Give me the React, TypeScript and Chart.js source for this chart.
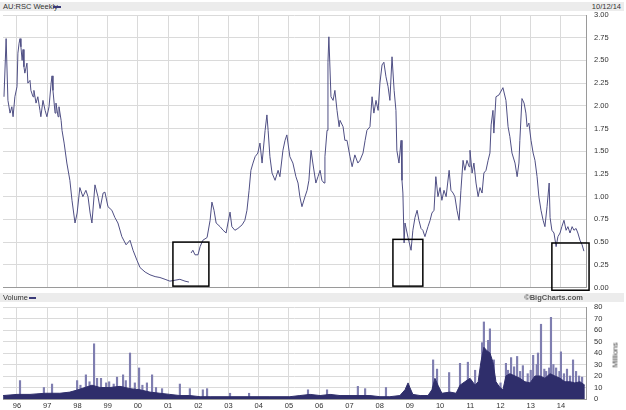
import React, { useEffect, useRef } from "react";
import { Chart, registerables } from "chart.js";
Chart.register(...registerables);

// ---- Data (decimal years) ----
const priceTimes = [
  1995.57, 1995.64, 1995.70, 1995.77, 1995.83, 1995.87, 1995.93, 1996.00, 1996.03, 1996.07,
  1996.10, 1996.13, 1996.17, 1996.20, 1996.23, 1996.26, 1996.33, 1996.36, 1996.43, 1996.46,
  1996.53, 1996.56, 1996.63, 1996.69, 1996.76, 1996.79, 1996.86, 1996.93, 1996.99, 1997.06,
  1997.13, 1997.16, 1997.19, 1997.26, 1997.29, 1997.36, 1997.39, 1997.46, 1997.49, 1997.56,
  1997.65, 1997.75, 1997.82, 1997.92, 1997.99, 1998.08, 1998.18, 1998.28, 1998.35, 1998.42,
  1998.48, 1998.58, 1998.68, 1998.75, 1998.85, 1998.91, 1999.01, 1999.14, 1999.24, 1999.34,
  1999.47, 1999.61, 1999.74, 1999.84, 1999.97, 2000.07, 2000.24, 2000.40, 2000.57, 2000.73,
  2000.90, 2001.06, 2001.23, 2001.39, 2001.56, 2001.69, 2001.72, 2001.76, 2001.82, 2001.89,
  2001.99, 2002.06, 2002.15, 2002.29, 2002.39, 2002.45, 2002.52, 2002.59, 2002.72, 2002.82,
  2002.92, 2002.98, 2003.05, 2003.11, 2003.21, 2003.31, 2003.45, 2003.54, 2003.61, 2003.68,
  2003.74, 2003.81, 2003.88, 2003.97, 2004.04, 2004.11, 2004.21, 2004.27, 2004.31, 2004.37,
  2004.44, 2004.54, 2004.64, 2004.70, 2004.80, 2004.87, 2004.93, 2005.03, 2005.13, 2005.23,
  2005.30, 2005.36, 2005.43, 2005.53, 2005.60, 2005.66, 2005.73, 2005.79, 2005.89, 2005.96,
  2006.03, 2006.09, 2006.16, 2006.19, 2006.26, 2006.29, 2006.32, 2006.39, 2006.46, 2006.52,
  2006.59, 2006.66, 2006.69, 2006.79, 2006.85, 2006.92, 2007.02, 2007.09, 2007.18, 2007.28,
  2007.35, 2007.45, 2007.52, 2007.58, 2007.68, 2007.75, 2007.81, 2007.88, 2007.95, 2008.01,
  2008.08, 2008.14, 2008.21, 2008.28, 2008.34, 2008.41, 2008.48, 2008.54, 2008.57, 2008.64,
  2008.71, 2008.74, 2008.77, 2008.81, 2008.84, 2008.94, 2009.04, 2009.10, 2009.17, 2009.24,
  2009.30, 2009.37, 2009.43, 2009.50, 2009.60, 2009.67, 2009.73, 2009.80, 2009.86, 2009.93,
  2010.00, 2010.06, 2010.13, 2010.20, 2010.30, 2010.36, 2010.43, 2010.49, 2010.56, 2010.63,
  2010.69, 2010.76, 2010.82, 2010.89, 2010.96, 2010.99, 2011.06, 2011.12, 2011.19, 2011.26,
  2011.32, 2011.39, 2011.45, 2011.52, 2011.59, 2011.65, 2011.69, 2011.75, 2011.78, 2011.85,
  2011.95, 2012.08, 2012.18, 2012.25, 2012.31, 2012.38, 2012.48, 2012.55, 2012.61, 2012.64,
  2012.71, 2012.78, 2012.84, 2012.88, 2012.94, 2013.01, 2013.08, 2013.14, 2013.21, 2013.27,
  2013.34, 2013.41, 2013.47, 2013.54, 2013.61, 2013.64, 2013.70, 2013.77, 2013.84, 2013.90,
  2013.97, 2014.03, 2014.10, 2014.17, 2014.23, 2014.30, 2014.37, 2014.43, 2014.50, 2014.56,
  2014.63, 2014.70, 2014.76,
];
const priceValues: (number | null)[] = [
  2.10, 2.74, 2.06, 1.92, 1.99, 1.88, 2.10, 2.21, 2.58, 2.69,
  2.74, 2.65, 2.50, 2.62, 2.43, 2.36, 2.47, 2.25, 2.28, 2.17,
  2.10, 2.17, 2.03, 2.10, 1.95, 1.88, 2.06, 1.95, 1.88, 1.99,
  2.25, 2.33, 2.17, 1.92, 2.03, 1.88, 1.99, 1.84, 1.73, 1.59,
  1.37, 1.18, 0.96, 0.71, 0.82, 1.10, 1.00, 1.07, 1.00, 0.82,
  0.71, 1.13, 1.00, 0.87, 1.04, 1.05, 0.89, 0.85, 0.77, 0.71,
  0.56, 0.47, 0.52, 0.41, 0.30, 0.22, 0.17, 0.14, 0.12, 0.11,
  0.09, 0.07, 0.08, 0.09, 0.07, 0.06, null, 0.38, 0.41, 0.36,
  0.36, 0.45, 0.52, 0.55, 0.74, 0.94, 0.85, 0.71, 0.67, 0.63,
  0.60, 0.71, 0.83, 0.67, 0.63, 0.65, 0.69, 0.74, 0.85, 1.07,
  1.29, 1.37, 1.44, 1.48, 1.59, 1.37, 1.73, 1.90, 1.73, 1.44,
  1.26, 1.18, 1.29, 1.22, 1.51, 1.62, 1.68, 1.44, 1.37, 1.22,
  1.15, 1.00, 0.89, 1.00, 1.07, 1.18, 1.51, 1.37, 1.15, 1.22,
  1.29, 1.18, 1.15, 1.44, 1.73, 2.48, 2.76, 2.10, 2.06, 2.17,
  1.95, 1.77, 1.84, 1.77, 1.62, 1.62, 1.44, 1.33, 1.46, 1.37,
  1.40, 1.48, 1.62, 1.73, 1.77, 2.10, 1.92, 2.06, 1.95, 2.25,
  2.45, 2.48, 2.32, 2.21, 2.06, 2.54, 2.17, 1.95, 1.51, 1.37,
  1.62, 1.18, 1.04, 0.49, 0.71, 0.55, 0.41, 0.63, 0.77, 0.85,
  0.74, 0.65, 0.63, 0.56, 0.67, 0.74, 0.82, 0.85, 1.22, 1.00,
  1.10, 0.96, 1.07, 1.00, 1.29, 1.07, 1.04, 1.00, 0.85, 0.74,
  1.07, 1.40, 1.29, 1.40, 1.33, 1.51, 1.26, 1.37, 1.15, 1.00,
  1.10, 1.04, 1.26, 1.29, 1.40, 1.48, 1.79, 1.95, 1.70, 2.10,
  2.12, 2.20, 2.06, 1.77, 1.66, 1.48, 1.37, 1.22, 1.37, 1.62,
  2.08, 2.03, 1.92, 1.77, 1.81, 1.62, 1.48, 1.40, 1.22, 1.00,
  0.85, 0.74, 0.67, 0.89, 1.15, 0.77, 0.63, 0.60, 0.45, 0.56,
  0.60, 0.67, 0.74, 0.63, 0.67, 0.60, 0.67, 0.63, 0.65, 0.60,
  0.52, 0.47, 0.40,
];

const volBaseTimes = [
  1995.54, 1996.00, 1996.43, 1996.93, 1997.42, 1997.75, 1998.02, 1998.25, 1998.48, 1998.75,
  1999.08, 1999.41, 1999.74, 2000.07, 2000.40, 2000.73, 2001.06, 2001.39, 2001.72, 2002.06,
  2002.39, 2003.05, 2003.71, 2004.37, 2005.03, 2005.36, 2005.70, 2006.03, 2006.36, 2006.69,
  2007.02, 2007.35, 2007.68, 2008.01, 2008.34, 2008.67, 2008.84, 2008.94, 2009.00, 2009.10,
  2009.34, 2009.60, 2009.73, 2009.83, 2009.93, 2010.06, 2010.33, 2010.53, 2010.66, 2010.82,
  2010.99, 2011.16, 2011.26, 2011.35, 2011.45, 2011.55, 2011.65, 2011.75, 2011.85, 2011.98,
  2012.08, 2012.18, 2012.31, 2012.48, 2012.64, 2012.81, 2012.98, 2013.14, 2013.31, 2013.47,
  2013.64, 2013.80, 2013.97, 2014.13, 2014.30, 2014.46, 2014.63, 2014.79,
];
const volBaseValues = [
  3, 4, 4, 5, 5, 6, 8, 10, 12, 10,
  10, 11, 9, 8, 6, 5, 4, 3, 3, 2,
  2, 2, 2, 2, 2, 3, 4, 3, 4, 3,
  3, 3, 3, 2, 2, 3, 8, 14, 10, 4,
  3, 3, 8, 18, 12, 5, 6, 5, 12, 15,
  18, 12, 15, 32, 45, 42, 40, 32, 15, 10,
  8, 20, 22, 20, 18, 15, 14, 20, 20, 18,
  22, 20, 18, 15, 15, 14, 15, 12,
];

const volSpikeTimes = [
  1996.10, 1996.89, 1997.16, 1997.99, 1998.10, 1998.28, 1998.40, 1998.55, 1998.65, 1998.78,
  1998.95, 1999.05, 1999.20, 1999.31, 1999.51, 1999.60, 1999.74, 1999.90, 2000.04, 2000.15,
  2000.30, 2000.47, 2000.60, 2000.80, 2001.39, 2001.72, 2002.15, 2002.29, 2003.05, 2003.68,
  2005.63, 2006.26, 2007.28, 2007.52, 2008.21, 2009.77, 2009.90, 2010.30, 2010.66, 2010.92,
  2011.16, 2011.39, 2011.45, 2011.59, 2011.65, 2011.78, 2012.00, 2012.18, 2012.25, 2012.35,
  2012.45, 2012.55, 2012.65, 2012.74, 2012.90, 2013.00, 2013.08, 2013.20, 2013.24, 2013.34,
  2013.45, 2013.51, 2013.61, 2013.67, 2013.75, 2013.84, 2013.95, 2014.00, 2014.10, 2014.20,
  2014.30, 2014.40, 2014.50, 2014.60, 2014.70,
];
const volSpikeValues = [
  16, 10, 13, 16, 12, 21, 15, 48, 18, 18,
  14, 15, 13, 19, 21, 16, 40, 14, 27, 12,
  14, 21, 10, 9, 13, 9, 8, 9, 5, 5,
  8, 8, 11, 9, 10, 34, 26, 23, 31, 32,
  25, 49, 67, 51, 61, 34, 14, 31, 25, 36,
  28, 37, 24, 29, 22, 25, 38, 30, 40, 65,
  26, 24, 27, 71, 30, 27, 24, 41, 22, 26,
  20, 34, 24, 20, 19,
];

const yearLabels = ["96","97","98","99","00","01","02","03","04","05","06","07","08","09","10","11","12","13","14"];
const firstYear = 1996;

// highlighted boxes (decimal year / price units)
const boxStart = [2001.16, 2008.44, 2013.70];
const boxEnd = [2002.35, 2009.43, 2014.93];
const boxLow = [0.015, 0.015, -0.03];
const boxHigh = [0.50, 0.53, 0.49];

const X_MIN = 1995.537;
const X_MAX = 2014.829;
const FONT = "'Liberation Sans', Arial, sans-serif";
const GRID = "#dadada";

const boxPlugin = {
  id: "boxes",
  afterDatasetsDraw(chart: any) {
    const { ctx, scales } = chart;
    const xs = scales.x, ys = scales.y;
    ctx.save();
    ctx.strokeStyle = "#000";
    ctx.lineWidth = 1.5;
    for (let i = 0; i < boxStart.length; i++) {
      const x1 = xs.getPixelForValue(boxStart[i]);
      const x2 = xs.getPixelForValue(boxEnd[i]);
      const y1 = ys.getPixelForValue(boxHigh[i]);
      const y2 = ys.getPixelForValue(boxLow[i]);
      ctx.strokeRect(x1, y1, x2 - x1, y2 - y1);
    }
    ctx.restore();
  },
};

const yearTick = (v: any) => {
  const i = Math.round(Number(v)) - firstYear;
  return yearLabels[i] ?? "";
};

export default function App() {
  const priceRef = useRef<HTMLCanvasElement>(null);
  const volRef = useRef<HTMLCanvasElement>(null);

  useEffect(() => {
    const priceData = priceTimes.map((t, i) => ({ x: t, y: priceValues[i] }));
    const c1 = new Chart(priceRef.current!, {
      type: "line",
      data: {
        datasets: [
          {
            data: priceData as any,
            borderColor: "#4f4f84",
            borderWidth: 1,
            pointRadius: 0,
            tension: 0,
            spanGaps: false,
          },
        ],
      },
      options: {
        animation: false,
        responsive: false,
        maintainAspectRatio: false,
        layout: { padding: { top: 15, bottom: 0, left: 3, right: 0 } },
        plugins: { legend: { display: false }, tooltip: { enabled: false } },
        scales: {
          x: {
            type: "linear",
            min: X_MIN,
            max: X_MAX,
            ticks: { display: false, stepSize: 1, includeBounds: false },
            grid: { color: GRID, drawTicks: false },
            border: { color: "#9a9a9a" },
          },
          y: {
            position: "right",
            min: 0,
            max: 3,
            ticks: {
              stepSize: 0.25,
              padding: 8,
              autoSkip: false,
              color: "#333",
              font: { family: FONT, size: 7.5 },
              callback: (v: any) => Number(v).toFixed(2),
            },
            grid: { color: GRID, drawTicks: false },
            border: { color: "#9a9a9a" },
            afterFit: (s: any) => { s.width = 40; },
          },
        },
      },
      plugins: [boxPlugin],
    });

    const baseData = volBaseTimes.map((t, i) => ({ x: t, y: volBaseValues[i] }));
    const spikeData = volSpikeTimes.map((t, i) => ({ x: t, y: volSpikeValues[i] }));
    const c2 = new Chart(volRef.current!, {
      type: "bar",
      data: {
        datasets: [
          {
            type: "line",
            data: baseData as any,
            borderColor: "#2f2e6b",
            backgroundColor: "#2f2e6b",
            borderWidth: 1,
            pointRadius: 0,
            fill: "origin",
            tension: 0,
            order: 1,
          } as any,
          {
            type: "bar",
            data: spikeData as any,
            backgroundColor: "#7f7eb0",
            barThickness: 1.5,
            order: 2,
          } as any,
        ],
      },
      options: {
        animation: false,
        responsive: false,
        maintainAspectRatio: false,
        layout: { padding: { top: 15, bottom: 0, left: 3, right: 0 } },
        plugins: { legend: { display: false }, tooltip: { enabled: false } },
        scales: {
          x: {
            type: "linear",
            min: X_MIN,
            max: X_MAX,
            offset: false,
            ticks: {
              stepSize: 1,
              includeBounds: false,
              padding: 2,
              maxRotation: 0,
              autoSkip: false,
              color: "#333",
              font: { family: FONT, size: 7.5 },
              callback: yearTick,
            },
            grid: { color: GRID, drawTicks: false, offset: false },
            border: { color: "#9a9a9a" },
          },
          y: {
            position: "right",
            min: 0,
            max: 80,
            ticks: {
              stepSize: 10,
              padding: 8,
              autoSkip: false,
              color: "#333",
              font: { family: FONT, size: 7.5 },
            },
            grid: { color: GRID, drawTicks: false },
            border: { color: "#9a9a9a" },
            afterFit: (s: any) => { s.width = 40; },
          },
        },
      },
    });

    return () => {
      c1.destroy();
      c2.destroy();
    };
  }, []);

  const band: React.CSSProperties = {
    position: "absolute",
    left: 0,
    width: 624,
    height: 9,
    background: "#ececec",
    fontFamily: FONT,
    fontSize: 7.5,
    lineHeight: "9px",
    color: "#333",
  };

  return (
    <div style={{ position: "absolute", left: 0, top: 0, width: 626, height: 410, background: "#fff", overflow: "hidden" }}>
      <div style={{ ...band, top: 2 }}>
        <span style={{ position: "absolute", left: 3 }}>AU:RSC Weekly</span>
        <span style={{ position: "absolute", left: 53, top: 4, width: 8, height: 2, background: "#3a3a78" }} />
        <span style={{ position: "absolute", right: 3 }}>10/12/14</span>
      </div>
      <canvas ref={priceRef} width={626} height={300} style={{ position: "absolute", left: 0, top: 0 }} />
      <div style={{ ...band, top: 293 }}>
        <span style={{ position: "absolute", left: 3 }}>Volume</span>
        <span style={{ position: "absolute", left: 29, top: 4, width: 7, height: 2, background: "#3a3a78" }} />
        <span style={{ position: "absolute", right: 41, fontWeight: "bold", color: "#555" }}>©BigCharts.com</span>
      </div>
      <canvas ref={volRef} width={626} height={120} style={{ position: "absolute", left: 0, top: 292 }} />
      <div
        style={{
          position: "absolute",
          left: 615,
          top: 355,
          transform: "translate(-50%, -50%) rotate(-90deg)",
          fontFamily: FONT,
          fontSize: 7.5,
          color: "#333",
          whiteSpace: "nowrap",
        }}
      >
        Millions
      </div>
    </div>
  );
}
